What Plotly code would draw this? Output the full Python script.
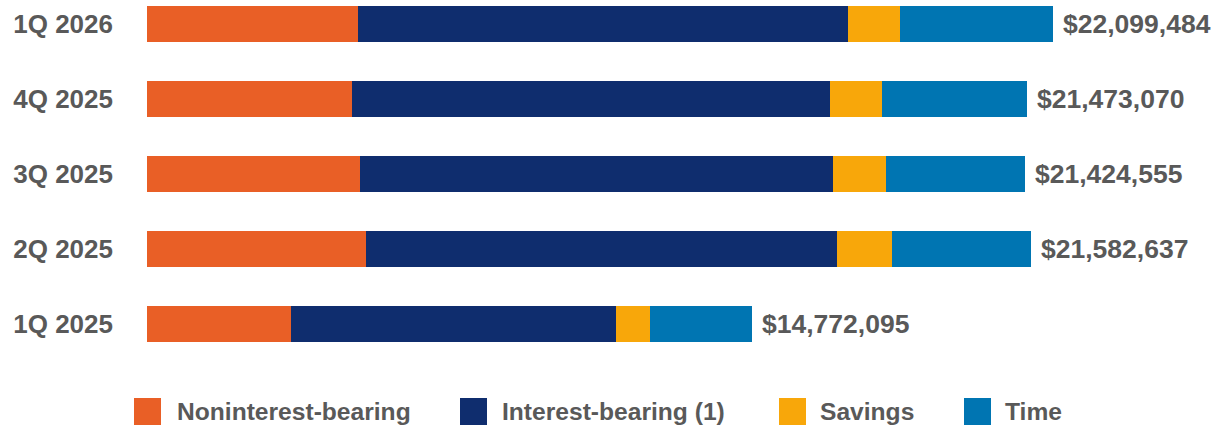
import plotly.graph_objects as go

# quarters, bottom to top
quarters = ["1Q 2025", "2Q 2025", "3Q 2025", "4Q 2025", "1Q 2026"]

# deposit mix ($ thousands)
noninterest = [3521000, 5337000, 5190000, 4995000, 5141000]
interest = [7923000, 11496000, 11545000, 11672000, 11964000]
savings = [839000, 1337000, 1288000, 1276000, 1276000]
time_dep = [2489095, 3412637, 3401555, 3530070, 3718484]
totals = [14772095, 21582637, 21424555, 21473070, 22099484]

series_names = ["Noninterest-bearing", "Interest-bearing (1)", "Savings", "Time"]
colors = ["#E95F26", "#0F2D6E", "#F8A70A", "#0075B2"]

W, H = 1215, 427
ML, MR, MT, MB = 147, 0, 0, 65
PW, PH = W - ML - MR, H - MT - MB
FONT = "Liberation Sans, Arial, sans-serif"
GREY = "#595959"


def px_x(x):
    # screen px -> paper fraction
    return (x - ML) / PW


def px_y(y):
    return (H - MB - y) / PH


fig = go.Figure()
for name, vals, col in zip(series_names, [noninterest, interest, savings, time_dep], colors):
    fig.add_trace(go.Bar(
        y=quarters, x=vals, name=name, orientation="h",
        marker=dict(color=col, line=dict(width=0)),
        width=0.48, showlegend=False, hoverinfo="x+name",
    ))

# total labels at the end of each bar
for q, t in zip(quarters, totals):
    fig.add_annotation(
        x=t, y=q, text=f"${t:,}", showarrow=False,
        xanchor="left", yanchor="middle", xshift=8,
        font=dict(family=FONT, size=26.5, color=GREY, weight="bold"),
    )

# hand-made legend (big square swatches)
sq_left = [134, 460, 779, 964]
txt_left = [177, 502, 820, 1005]
for name, col, sx, tx in zip(series_names, colors, sq_left, txt_left):
    fig.add_shape(
        type="rect", xref="paper", yref="paper",
        x0=px_x(sx), x1=px_x(sx + 27), y0=px_y(425), y1=px_y(398),
        fillcolor=col, line=dict(width=0),
    )
    fig.add_annotation(
        x=px_x(tx - 2), y=px_y(411.5), xref="paper", yref="paper",
        text=name, showarrow=False, xanchor="left", yanchor="middle",
        font=dict(family=FONT, size=24.6, color=GREY, weight="bold"),
    )

top = 4 + 24 / 75
fig.update_layout(
    width=W, height=H,
    margin=dict(l=ML, r=MR, t=MT, b=MB, autoexpand=False),
    barmode="stack",
    plot_bgcolor="white", paper_bgcolor="white",
    xaxis=dict(range=[0, PW / 40.98 * 1e6], visible=False, fixedrange=True),
    yaxis=dict(
        range=[top - PH / 75, top],
        showgrid=False, zeroline=False, showline=False, ticks="",
        ticklabelstandoff=33,
        tickfont=dict(family=FONT, size=26, color=GREY, weight="bold"),
        fixedrange=True,
    ),
)

# drop the default 8px body margin so the figure fills the window
fig.write_html(
    "out.html",
    config={"displayModeBar": False},
    post_script="document.body.style.margin='0';document.body.style.overflow='hidden';",
)
